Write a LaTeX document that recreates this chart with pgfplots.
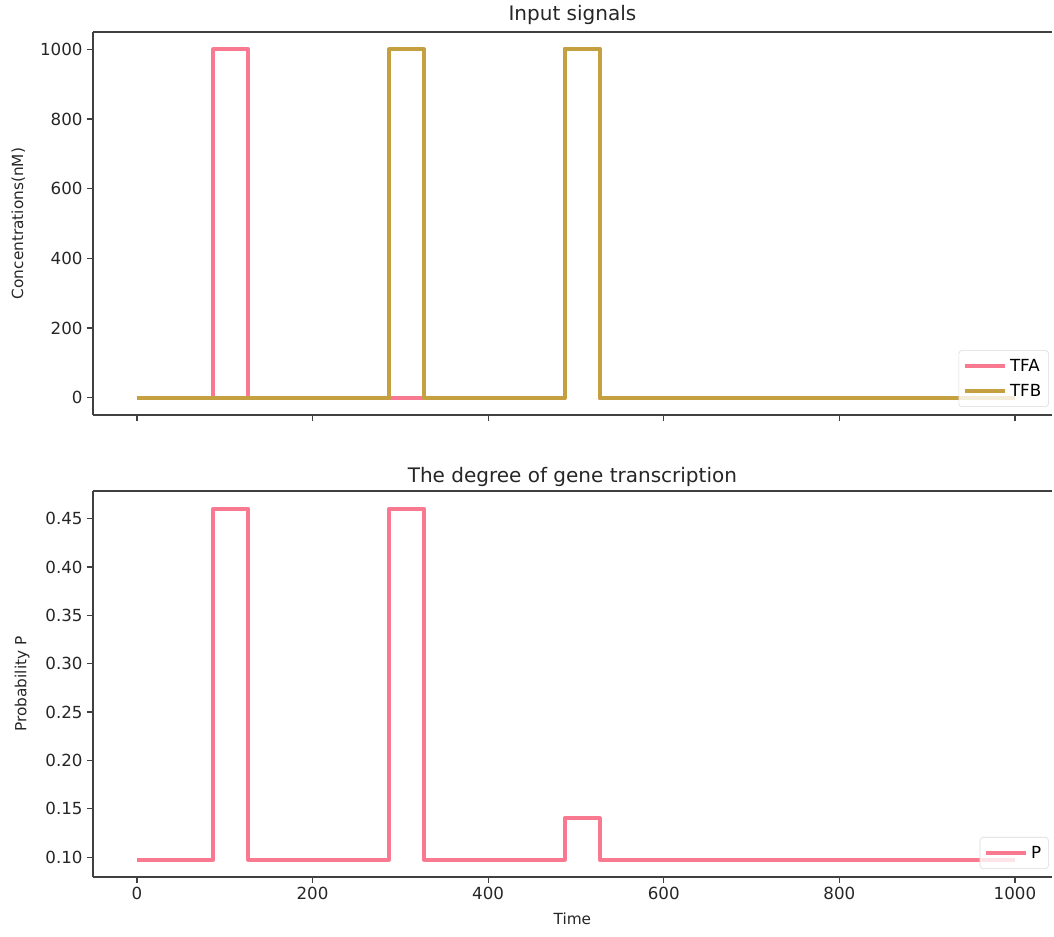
\documentclass[border=0pt]{standalone}
\usepackage{fontspec}
\setmainfont{DejaVu Sans}
\usepackage{pgfplots}
\pgfplotsset{compat=1.18}
\definecolor{tfa}{HTML}{F97A90}
\definecolor{tfb}{HTML}{C4A040}
\definecolor{txt}{HTML}{262626}
\definecolor{spine}{HTML}{404040}
\pgfplotsset{
  base/.style={
    scale only axis, width=719.1pt,
    xmin=-50, xmax=1042,
    axis x line*=box, axis y line*=left,
    axis line style={spine, line width=0.9pt, -},
    y axis line style={-},
    xtick pos=bottom, ytick pos=left,
    tick style={spine, line width=0.9pt},
    tick align=outside, major tick length=4.3pt,
    xtick={0,200,...,1000},
    /pgf/number format/assume math mode=true,
    /pgf/number format/1000 sep={},
    tick label style={font=\fontsize{12.5}{15}\selectfont, text=txt},
    label style={font=\fontsize{11.5}{14}\selectfont, text=txt},
    title style={font=\fontsize{15}{18}\selectfont, text=txt, at={(axis description cs:0.5,1)}, anchor=base},
    legend style={font=\fontsize{12.5}{15}\selectfont, draw=black!15, rounded corners=2.5pt,
      fill=white, fill opacity=0.8, text opacity=1, at={(axis description cs:1,0)},
      anchor=south east, xshift=-2.25pt, yshift=6pt, row sep=3pt, inner xsep=3pt, inner ysep=4pt,
      nodes={inner sep=2.5pt}},
    legend cell align=left,
    legend image code/.code={\draw[##1] (0cm,0cm) -- (1.05cm,0cm);},
    every axis plot/.append style={line width=3pt, line join=round},
  }
}
\begin{document}
\begin{tikzpicture}
\useasboundingbox (-69.75pt,24pt) rectangle (720.75pt,-678.75pt);
\begin{axis}[base, at={(0,0)}, anchor=north west, height=287.25pt,
  ymin=-50, ymax=1050, ytick={0,200,...,1000}, xticklabels={},
  title={Input signals}, title style={yshift=2.25pt},
  ylabel={Concentrations(nM)},
  ylabel style={at={(axis description cs:-0.078,0.5)}, anchor=center}]
\addplot[tfa] coordinates {(0,0) (87,0) (87,1000) (127,1000) (127,0) (487,0) (487,1000) (527,1000) (527,0) (1000,0)};
\addlegendentry{TFA}
\addplot[tfb] coordinates {(0,0) (287,0) (287,1000) (327,1000) (327,0) (487,0) (487,1000) (527,1000) (527,0) (1000,0)};
\addlegendentry{TFB}
\end{axis}
\begin{axis}[base, at={(0,-344.25pt)}, anchor=north west, height=289.5pt,
  ymin=0.0795, ymax=0.4785, ytick={0.10,0.15,...,0.46},
  yticklabel style={/pgf/number format/.cd, fixed, fixed zerofill, precision=2},
  title={The degree of gene transcription}, title style={yshift=0.5pt},
  xlabel={Time}, xlabel style={yshift=-3pt}, ylabel={Probability P},
  ylabel style={at={(axis description cs:-0.074,0.5)}, anchor=center}]
\addplot[tfa] coordinates {(0,0.0975) (87,0.0975) (87,0.46) (127,0.46) (127,0.0975) (287,0.0975) (287,0.46) (327,0.46) (327,0.0975) (487,0.0975) (487,0.14) (527,0.14) (527,0.0975) (1000,0.0975)};
\addlegendentry{P}
\end{axis}
\end{tikzpicture}
\end{document}
